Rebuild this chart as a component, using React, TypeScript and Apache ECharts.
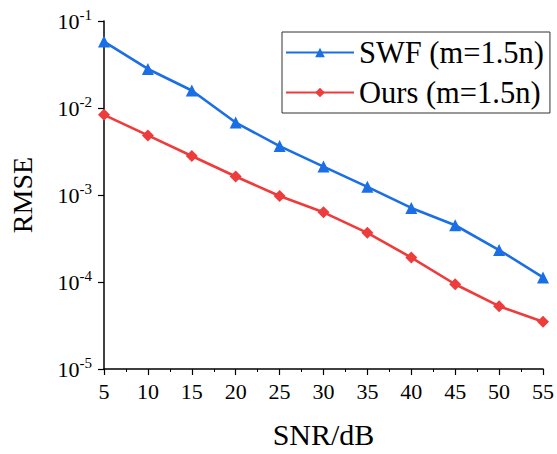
import React, { useEffect, useRef } from "react";
import * as echarts from "echarts";

// SNR levels (dB)
const snr = [5, 10, 15, 20, 25, 30, 35, 40, 45, 50, 55];
// RMSE of SWF (m=1.5n)
const swf = [0.058, 0.0281, 0.0159, 0.0068, 0.00365, 0.00212, 0.00124, 0.00071, 0.000449, 0.000233, 0.000113];
// RMSE of the proposed method (m=1.5n)
const ours = [0.00834, 0.00484, 0.00281, 0.00163, 0.000975, 0.000632, 0.000367, 0.000191, 0.0000942, 0.0000527, 0.0000349];

const seriesNames = ["SWF (m=1.5n)", "Ours (m=1.5n)"];
const font = "'Liberation Serif', 'Times New Roman', serif";

export default function App() {
  const ref = useRef<HTMLDivElement>(null);

  useEffect(() => {
    if (!ref.current) return;
    const chart = echarts.init(ref.current, undefined, { renderer: "svg" });
    const axisLine = { show: true, lineStyle: { color: "#000", width: 1.5 } };
    chart.setOption({
      animation: false,
      backgroundColor: "#fff",
      grid: { left: 103, right: 12, top: 21, bottom: 77 },
      legend: {
        orient: "vertical",
        left: 282,
        top: 32,
        padding: [5, 6, 5, 3],
        borderColor: "#333",
        borderWidth: 1,
        itemWidth: 68,
        itemHeight: 12,
        itemGap: 9,
        textStyle: { fontFamily: font, fontSize: 30.5, color: "#000" },
        data: seriesNames,
      },
      xAxis: {
        type: "value",
        min: 5,
        max: 55,
        interval: 5,
        name: "SNR/dB",
        nameLocation: "middle",
        nameGap: 50,
        nameTextStyle: { fontFamily: font, fontSize: 30, color: "#000", verticalAlign: "top" },
        axisLine,
        axisTick: { show: true, length: 6, lineStyle: { color: "#000", width: 1.2 } },
        minorTick: { show: true, splitNumber: 2, length: 3, lineStyle: { color: "#000", width: 1 } },
        splitLine: { show: false },
        axisLabel: { fontFamily: font, fontSize: 22, color: "#000", margin: 11 },
      },
      yAxis: {
        type: "log",
        logBase: 10,
        min: 1e-5,
        max: 1e-1,
        name: "RMSE",
        nameLocation: "middle",
        nameGap: 68,
        nameTextStyle: { fontFamily: font, fontSize: 28, color: "#000" },
        axisLine,
        axisTick: { show: true, length: 6, lineStyle: { color: "#000", width: 1.2 } },
        splitLine: { show: false },
        axisLabel: {
          margin: 12,
          formatter: (v: number) => `{b|10}{s|${Math.round(Math.log10(v))}}`,
          rich: {
            b: { fontFamily: font, fontSize: 22, color: "#000" },
            s: { fontFamily: font, fontSize: 15, color: "#000", verticalAlign: "top", padding: [0, 0, 12, 0] },
          },
        },
      },
      series: [
        {
          name: seriesNames[0],
          type: "line",
          data: snr.map((x, i) => [x, swf[i]]),
          symbol: "triangle",
          symbolSize: 12,
          color: "#1b6fe4",
          lineStyle: { width: 2.6 },
        },
        {
          name: seriesNames[1],
          type: "line",
          data: snr.map((x, i) => [x, ours[i]]),
          symbol: "diamond",
          symbolSize: 12,
          color: "#ee3b3b",
          lineStyle: { width: 2.6 },
        },
      ],
    });
    return () => chart.dispose();
  }, []);

  return <div ref={ref} style={{ width: 557, height: 454, position: "absolute", left: 0, top: 0 }} />;
}
